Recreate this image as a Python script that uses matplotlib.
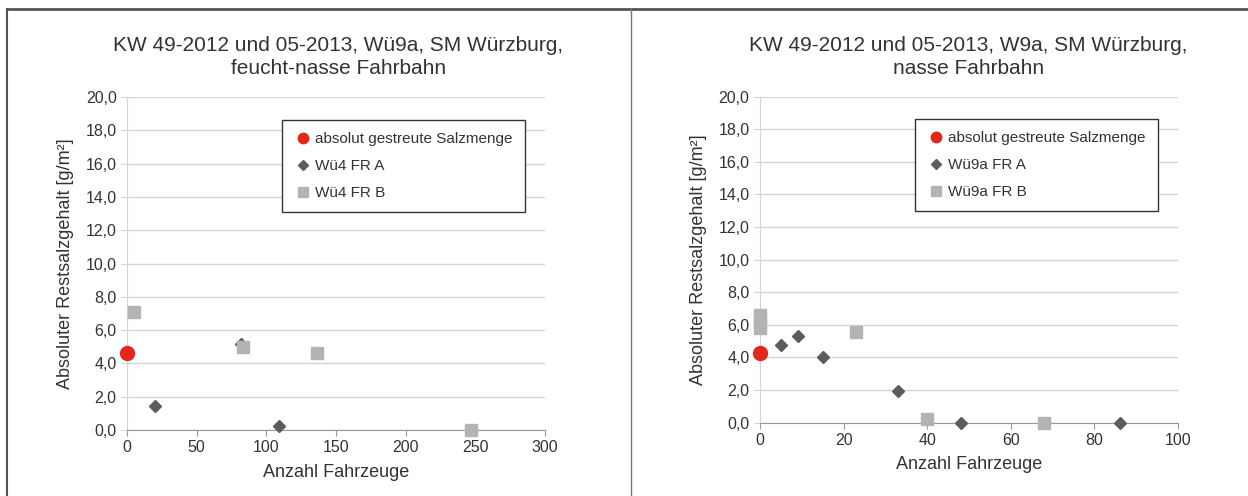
import matplotlib.pyplot as plt
from matplotlib.lines import Line2D

plt.rcParams['font.family'] = ['Liberation Sans', 'DejaVu Sans']

# left panel: feucht-nasse Fahrbahn
left_title = "KW 49-2012 und 05-2013, Wü9a, SM Würzburg,\nfeucht-nasse Fahrbahn"
left_salt_x = [0]
left_salt_y = [4.6]
left_a_x = [20, 82, 109]
left_a_y = [1.45, 5.15, 0.25]
left_b_x = [5, 83, 136, 247]
left_b_y = [7.1, 5.0, 4.6, 0.0]
left_labels = ["absolut gestreute Salzmenge", "Wü4 FR A", "Wü4 FR B"]
left_xticks = [0, 50, 100, 150, 200, 250, 300]

# right panel: nasse Fahrbahn
right_title = "KW 49-2012 und 05-2013, W9a, SM Würzburg,\nnasse Fahrbahn"
right_salt_x = [0]
right_salt_y = [4.3]
right_a_x = [5, 9, 15, 33, 48, 86]
right_a_y = [4.75, 5.3, 4.05, 1.95, 0.0, 0.0]
right_b_x = [0, 0, 0, 23, 40, 68]
right_b_y = [6.6, 6.2, 5.8, 5.55, 0.2, 0.0]
right_labels = ["absolut gestreute Salzmenge", "Wü9a FR A", "Wü9a FR B"]
right_xticks = [0, 20, 40, 60, 80, 100]

yticks = [0, 2, 4, 6, 8, 10, 12, 14, 16, 18, 20]
ytick_labels = ["0,0", "2,0", "4,0", "6,0", "8,0", "10,0", "12,0", "14,0", "16,0", "18,0", "20,0"]

txt = '#333333'

fig = plt.figure(figsize=(12.48, 4.96), dpi=100)


def draw_panel(ax, title, sx, sy, ax_, ay, bx, by, labels, xticks, title_x):
    ax.grid(axis='y', color='#d4d4d4', linewidth=1)
    ax.set_axisbelow(True)
    ax.plot(ax_, ay, linestyle='none', marker='D', markersize=6.5,
            color='#5c5c5c', label=labels[1], zorder=3, clip_on=False)
    ax.plot(bx, by, linestyle='none', marker='s', markersize=9,
            color='#b3b3b3', label=labels[2], zorder=4, clip_on=False)
    ax.plot(sx, sy, linestyle='none', marker='o', markersize=10,
            color='#e3261c', label=labels[0], zorder=5, clip_on=False)
    ax.set_xlim(xticks[0], xticks[-1])
    ax.set_ylim(0, 20)
    ax.set_xticks(xticks)
    ax.set_yticks(yticks)
    ax.set_yticklabels(ytick_labels)
    ax.tick_params(axis='both', labelsize=11.5, colors=txt, length=4,
                   color='#999999')
    ax.tick_params(axis='y', length=4, color='#d4d4d4')
    for s in ['top', 'right']:
        ax.spines[s].set_visible(False)
    ax.spines['left'].set_color('#d4d4d4')
    ax.spines['bottom'].set_color('#999999')
    ax.set_xlabel("Anzahl Fahrzeuge", fontsize=13, color=txt, labelpad=6)
    ax.set_ylabel("Absoluter Restsalzgehalt [g/m²]", fontsize=13, color=txt,
                  labelpad=8)
    h, l = ax.get_legend_handles_labels()
    order = [2, 0, 1]
    leg = ax.legend([h[i] for i in order], [l[i] for i in order],
                    loc='upper right', bbox_to_anchor=(0.97, 0.955),
                    fontsize=11, fancybox=False, edgecolor='#333333',
                    framealpha=1, handletextpad=0.2, handlelength=1.2,
                    labelspacing=0.85, borderpad=0.8, markerscale=0.75)
    leg.get_frame().set_linewidth(1)
    for t in leg.get_texts():
        t.set_color(txt)
    fig.text(title_x, 0.885, title, ha='center', va='center', fontsize=15,
             color=txt, linespacing=1.25)


ax1 = fig.add_axes([0.1018, 0.133, 0.335, 0.671])
draw_panel(ax1, left_title, left_salt_x, left_salt_y, left_a_x, left_a_y,
           left_b_x, left_b_y, left_labels, left_xticks, 0.271)

ax2 = fig.add_axes([0.609, 0.148, 0.335, 0.657])
draw_panel(ax2, right_title, right_salt_x, right_salt_y, right_a_x, right_a_y,
           right_b_x, right_b_y, right_labels, right_xticks, 0.776)

# outer frame and divider
fig.add_artist(Line2D([0.0056, 1], [0.982, 0.982], color='#555555', lw=2))
fig.add_artist(Line2D([0.0056, 0.0056], [0, 0.982], color='#555555', lw=1.5))
fig.add_artist(Line2D([0.5056, 0.5056], [0, 0.982], color='#777777', lw=1))

fig.savefig('out.png', dpi=100, facecolor='white')
